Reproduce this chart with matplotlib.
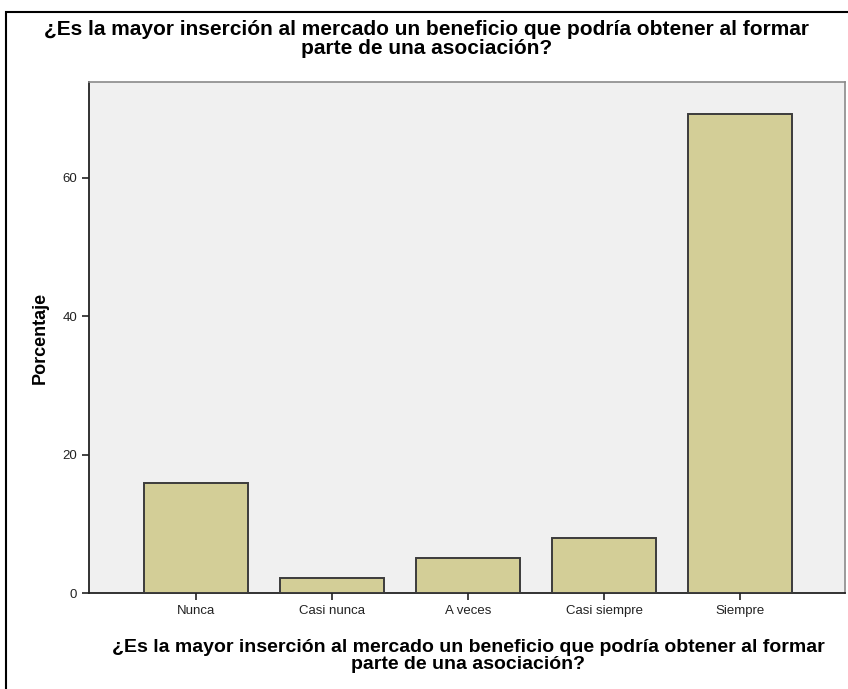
import matplotlib.pyplot as plt
from matplotlib.patches import Rectangle

plt.rcParams['font.family'] = ['Liberation Sans', 'DejaVu Sans']

categorias = ["Nunca", "Casi nunca", "A veces", "Casi siempre", "Siempre"]
porcentaje = [15.9, 2.1, 5.1, 7.9, 69.2]
titulo = "¿Es la mayor inserción al mercado un beneficio que podría obtener al formar\nparte de una asociación?"

fig = plt.figure(figsize=(8.48, 6.89), dpi=100)
W, H = 848, 689
ax = fig.add_axes([89 / W, 1 - 593 / H, (845 - 89) / W, (593 - 82) / H])
ax.set_facecolor('#F0F0F0')

x = range(len(categorias))
ax.bar(x, porcentaje, width=0.765, color='#D3CE97', edgecolor='#3C3C3C', linewidth=1.4, zorder=3)

ax.set_xlim(-0.79, 4.77)
ax.set_ylim(0, 73.8)
ax.set_yticks([0, 20, 40, 60])
ax.set_xticks(list(x))
ax.set_xticklabels(categorias)
ax.tick_params(axis='both', direction='out', length=5, width=1.2, color='#222222',
               labelsize=9.5, labelcolor='#222222')

for s in ['top', 'right']:
    ax.spines[s].set_color('#8A8A8A')
    ax.spines[s].set_linewidth(1.2)
for s in ['left', 'bottom']:
    ax.spines[s].set_color('#222222')
    ax.spines[s].set_linewidth(1.3)

ax.set_ylabel("Porcentaje", fontsize=13, fontweight='bold', labelpad=10)
ax.xaxis.label.set_visible(False)
fig.text(468 / W, 1 - 656 / H, titulo, ha='center', va='center', fontsize=14,
         fontweight='bold', linespacing=1.0)
fig.text(427 / W, 1 - 39 / H, titulo, ha='center', va='center', fontsize=15,
         fontweight='bold', linespacing=0.97)

# marco exterior
fig.add_artist(Rectangle((6 / W, -0.1), 1.2, 1 - 12 / H + 0.1, transform=fig.transFigure,
                         fill=False, edgecolor='black', linewidth=1.5, clip_on=False))

fig.savefig('out.png', dpi=100)
